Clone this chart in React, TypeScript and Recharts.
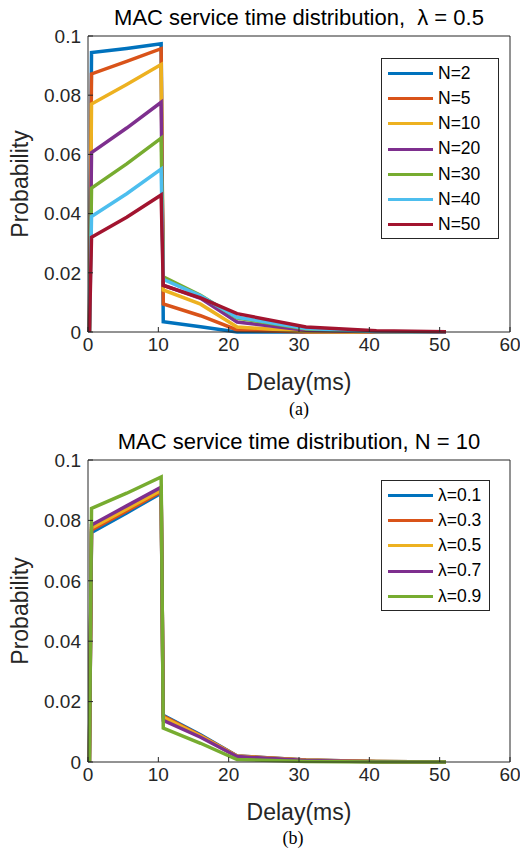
import { LineChart, Line, XAxis, YAxis, Legend } from 'recharts'

// delay axis (ms), shared by both panels
const delays = [0.2, 0.5, 5.5, 10.4, 10.7, 16, 21.2, 31, 41, 50.9]

// panel (a): lambda = 0.5, varying N
const n2 = [0, 0.0944, 0.0958, 0.0974, 0.0035, 0.0018, 0, 0, 0, 0]
const n5 = [0, 0.0872, 0.0914, 0.0957, 0.0095, 0.0055, 0.0007, 0, 0, 0]
const n10 = [0, 0.077, 0.0836, 0.0904, 0.0142, 0.0094, 0.0017, 0.0002, 0, 0]
const n20 = [0, 0.0606, 0.0689, 0.0776, 0.0158, 0.0114, 0.0034, 0.0006, 0.0001, 0]
const n30 = [0, 0.0486, 0.0568, 0.0655, 0.0186, 0.0124, 0.0047, 0.001, 0.0002, 0]
const n40 = [0, 0.039, 0.0467, 0.055, 0.0178, 0.0122, 0.005, 0.0012, 0.0002, 0]
const n50 = [0, 0.032, 0.0388, 0.0463, 0.0157, 0.0115, 0.0062, 0.0017, 0.0004, 0.0001]

// panel (b): N = 10, varying lambda
const l01 = [0, 0.076, 0.0825, 0.089, 0.0155, 0.009, 0.002, 0.0007, 0.0002, 0]
const l03 = [0, 0.0768, 0.0831, 0.0895, 0.0152, 0.0088, 0.002, 0.0007, 0.0002, 0]
const l05 = [0, 0.0775, 0.0838, 0.09, 0.0148, 0.0086, 0.0019, 0.0006, 0.0002, 0]
const l07 = [0, 0.0785, 0.0848, 0.091, 0.0138, 0.0082, 0.0018, 0.0005, 0.0001, 0]
const l09 = [0, 0.084, 0.089, 0.0944, 0.0112, 0.0062, 0.0008, 0.0002, 0, 0]

const xTicks = [0, 10, 20, 30, 40, 50, 60]
const yTicks = [0, 0.02, 0.04, 0.06, 0.08, 0.1]

const seriesA = [
  { key: 'n2', name: 'N=2', values: n2, color: '#0072BD' },
  { key: 'n5', name: 'N=5', values: n5, color: '#D95319' },
  { key: 'n10', name: 'N=10', values: n10, color: '#EDB120' },
  { key: 'n20', name: 'N=20', values: n20, color: '#7E2F8E' },
  { key: 'n30', name: 'N=30', values: n30, color: '#77AC30' },
  { key: 'n40', name: 'N=40', values: n40, color: '#4DBEEE' },
  { key: 'n50', name: 'N=50', values: n50, color: '#A2142F' },
]

const seriesB = [
  { key: 'l01', name: 'λ=0.1', values: l01, color: '#0072BD' },
  { key: 'l03', name: 'λ=0.3', values: l03, color: '#D95319' },
  { key: 'l05', name: 'λ=0.5', values: l05, color: '#EDB120' },
  { key: 'l07', name: 'λ=0.7', values: l07, color: '#7E2F8E' },
  { key: 'l09', name: 'λ=0.9', values: l09, color: '#77AC30' },
]

const FONT = '"Liberation Sans", Arial, Helvetica, sans-serif'
const AXIS = '#262626'

type Series = { key: string; name: string; values: number[]; color: string }

function buildRows(series: Series[]) {
  return delays.map((d, i) => {
    const row: Record<string, number> = { delay: d }
    series.forEach((s) => {
      row[s.key] = s.values[i]
    })
    return row
  })
}

// MATLAB-style boxed legend, kept in plotting order
const BoxLegend = ({ payload, order }: any) => {
  const items = [...(payload || [])].sort(
    (a: any, b: any) => order.indexOf(a.dataKey) - order.indexOf(b.dataKey)
  )
  return (
    <div
      style={{
        border: `1px solid ${AXIS}`,
        background: '#fff',
        padding: '2px 6px 1px 6px',
        fontFamily: FONT,
      }}
    >
      {items.map((p: any) => (
        <div key={p.value} style={{ display: 'flex', alignItems: 'center', height: 25.2 }}>
          <span style={{ width: 45, height: 3, background: p.color, marginRight: 5, display: 'block' }} />
          <span style={{ fontSize: 17.5, color: '#000', lineHeight: 1 }}>{p.value}</span>
        </div>
      ))}
    </div>
  )
}

const YLabel = ({ viewBox }: any) => {
  const cx = viewBox.x - 67
  const cy = viewBox.y + viewBox.height / 2
  return (
    <text
      x={cx}
      y={cy}
      transform={`rotate(-90 ${cx} ${cy})`}
      textAnchor="middle"
      dominantBaseline="central"
      fontFamily={FONT}
      fontSize={23}
      fill={AXIS}
    >
      Probability
    </text>
  )
}

interface PanelProps {
  title: string
  series: Series[]
  top: number
  bottom: number
  legend: { top: number; width: number }
}

function Panel({ title, series, top, bottom, legend }: PanelProps) {
  const data = buildRows(series)
  const tickStyle = { fontSize: 19, fill: AXIS, fontFamily: FONT }
  return (
    <LineChart
      width={520}
      height={425}
      data={data}
      margin={{ top: top - 1, right: 9, bottom: bottom - 1, left: 87 }}
    >
      <XAxis
        dataKey="delay"
        type="number"
        domain={[0, 60]}
        ticks={xTicks}
        height={1}
        stroke={AXIS}
        tickSize={-5}
        tickMargin={11}
        tick={tickStyle}
        label={{
          value: 'Delay(ms)',
          position: 'bottom',
          offset: 41,
          style: { fontSize: 23, fill: AXIS, fontFamily: FONT },
        }}
      />
      <XAxis
        xAxisId="top"
        orientation="top"
        type="number"
        domain={[0, 60]}
        ticks={xTicks}
        height={1}
        stroke={AXIS}
        tickSize={-5}
        tick={false}
        label={{
          value: title,
          position: 'top',
          offset: 10,
          style: { fontSize: 22, fill: '#000', fontFamily: FONT, whiteSpace: 'pre' },
        }}
      />
      <YAxis
        type="number"
        domain={[0, 0.1]}
        ticks={yTicks}
        width={1}
        stroke={AXIS}
        tickSize={-5}
        tickMargin={12}
        tick={tickStyle}
        label={<YLabel />}
      />
      <YAxis
        yAxisId="right"
        orientation="right"
        type="number"
        domain={[0, 0.1]}
        ticks={yTicks}
        width={1}
        stroke={AXIS}
        tickSize={-5}
        tick={false}
      />
      <Legend
        layout="vertical"
        align="center"
        verticalAlign="middle"
        content={<BoxLegend order={series.map((s) => s.key)} />}
        wrapperStyle={{ left: 381, top: legend.top, width: legend.width, height: 'auto' }}
      />
      {series.map((s) => (
        <Line
          key={s.key}
          type="linear"
          dataKey={s.key}
          name={s.name}
          stroke={s.color}
          strokeWidth={3.5}
          dot={false}
          isAnimationActive={false}
        />
      ))}
    </LineChart>
  )
}

export default function App() {
  return (
    <div style={{ position: 'absolute', left: 0, top: 0, width: 520, height: 850, background: '#fff' }}>
      <Panel
        title={'MAC service time distribution,\u00a0\u00a0λ = 0.5'}
        series={seriesA}
        top={36}
        bottom={93}
        legend={{ top: 58, width: 118 }}
      />
      <div
        style={{
          position: 'absolute', top: 400, left: 0, width: 598, textAlign: 'center',
          fontFamily: '"Liberation Serif", "Times New Roman", serif', fontSize: 18, lineHeight: '18px',
        }}
      >
        (a)
      </div>
      <div style={{ position: 'absolute', top: 425, left: 0 }}>
        <Panel
          title="MAC service time distribution, N = 10"
          series={seriesB}
          top={35}
          bottom={88}
          legend={{ top: 55, width: 109 }}
        />
      </div>
      <div
        style={{
          position: 'absolute', top: 829, left: 0, width: 586, textAlign: 'center',
          fontFamily: '"Liberation Serif", "Times New Roman", serif', fontSize: 18, lineHeight: '18px',
        }}
      >
        (b)
      </div>
    </div>
  )
}
